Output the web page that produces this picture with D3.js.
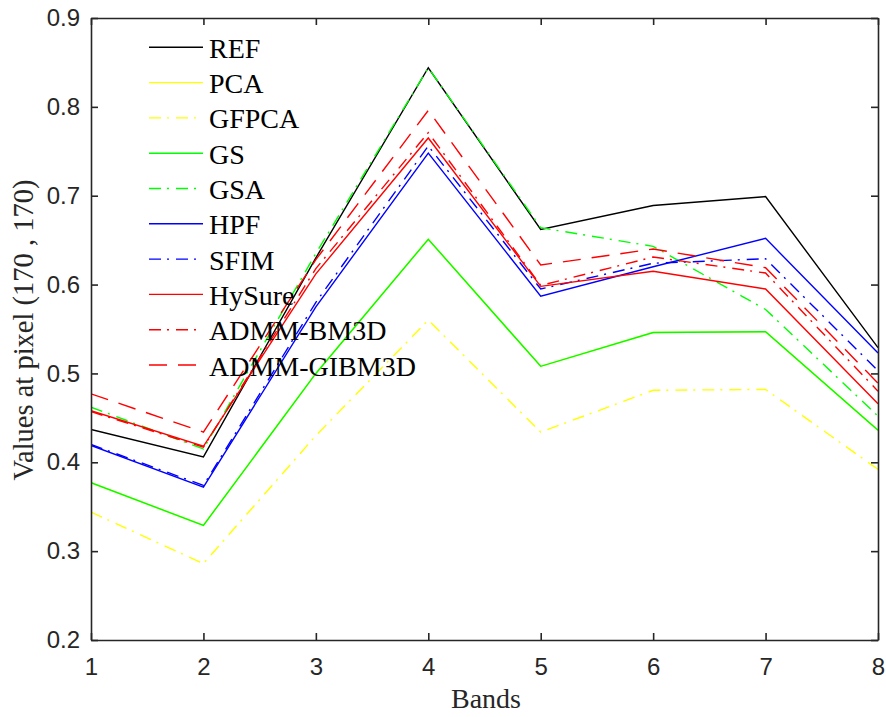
<!DOCTYPE html>
<html><head><meta charset="utf-8">
<script src="https://cdn.jsdelivr.net/npm/d3@7"></script>
<style>body{margin:0;background:#fff;} svg{display:block;}</style>
</head><body>
<svg id="chart" width="886" height="717"></svg>
<script>
const bands = [1, 2, 3, 4, 5, 6, 7, 8];
const yTicks = [0.2, 0.3, 0.4, 0.5, 0.6, 0.7, 0.8, 0.9];
const seriesNames = ["REF","PCA","GFPCA","GS","GSA","HPF","SFIM","HySure","ADMM-BM3D","ADMM-GIBM3D"];
const REF        = [0.437, 0.406, 0.630, 0.844, 0.662, 0.689, 0.699, 0.529];
const PCA        = [0.377, 0.329, 0.500, 0.651, 0.508, 0.546, 0.547, 0.436];
const GFPCA      = [0.344, 0.286, 0.430, 0.560, 0.434, 0.481, 0.482, 0.392];
const GS         = [0.377, 0.329, 0.500, 0.651, 0.508, 0.546, 0.547, 0.436];
const GSA        = [0.462, 0.415, 0.635, 0.844, 0.664, 0.643, 0.572, 0.452];
const HPF        = [0.419, 0.372, 0.575, 0.748, 0.587, 0.620, 0.652, 0.523];
const SFIM       = [0.420, 0.374, 0.580, 0.756, 0.595, 0.624, 0.629, 0.503];
const HySure     = [0.458, 0.418, 0.612, 0.765, 0.598, 0.615, 0.595, 0.466];
const ADMM_BM3D  = [0.457, 0.417, 0.618, 0.771, 0.599, 0.631, 0.613, 0.480];
const ADMM_GIBM3D= [0.477, 0.434, 0.628, 0.796, 0.622, 0.640, 0.619, 0.489];
const seriesData = [REF, PCA, GFPCA, GS, GSA, HPF, SFIM, HySure, ADMM_BM3D, ADMM_GIBM3D];
const colors = ["#000000","#ffff00","#ffff00","#00ff00","#00ff00","#0000ff","#0000ff","#ff0000","#ff0000","#ff0000"];
const dashes = [null, null, "12,6,2,7", null, "12,6,2,7", null, "12,6,2,7", null, "12,6,2,7", "18,11"];

const svg = d3.select("#chart");
const L = 91, R = 878, T = 18, B = 640;
const x = d3.scaleLinear().domain([1, 8]).range([L, R]);
const y = d3.scaleLinear().domain([0.2, 0.9]).range([B, T]);

const axisColor = "#262626";
const tickFont = "'Liberation Sans', Arial, sans-serif";
const serif = "'Liberation Serif', 'Times New Roman', serif";

// plot lines (clipped)
svg.append("clipPath").attr("id","clip").append("rect")
  .attr("x", L).attr("y", T).attr("width", R - L).attr("height", B - T);
const line = d3.line().x((d, i) => x(bands[i])).y(d => y(d));
const g = svg.append("g").attr("clip-path", "url(#clip)");
seriesData.forEach((s, k) => {
  g.append("path").datum(s)
    .attr("d", line)
    .attr("fill", "none")
    .attr("stroke", colors[k])
    .attr("stroke-width", 1.4)
    .attr("stroke-dasharray", dashes[k]);
});

// axes
const ax = svg.append("g").attr("class","axes");
const axB = d3.axisBottom(x).tickValues(bands).tickFormat(d3.format("d")).tickSizeInner(-7).tickSizeOuter(0).tickPadding(18);
const axL = d3.axisLeft(y).tickValues(yTicks).tickFormat(d3.format(".1f")).tickSizeInner(-7).tickSizeOuter(0).tickPadding(11);
const axT = d3.axisTop(x).tickValues(bands).tickFormat("").tickSizeInner(-7).tickSizeOuter(0);
const axR = d3.axisRight(y).tickValues(yTicks).tickFormat("").tickSizeInner(-7).tickSizeOuter(0);

function styleAxis(sel) {
  sel.selectAll("path").attr("stroke", axisColor).attr("stroke-width", 1.6);
  sel.selectAll("line").attr("stroke", axisColor).attr("stroke-width", 1.6);
  sel.selectAll("text").attr("fill", axisColor).style("font-family", tickFont).style("font-size", "24px");
}
styleAxis(ax.append("g").attr("transform", `translate(0,${B})`).call(axB));
styleAxis(ax.append("g").attr("transform", `translate(${L},0)`).call(axL));
styleAxis(ax.append("g").attr("transform", `translate(0,${T})`).call(axT));
styleAxis(ax.append("g").attr("transform", `translate(${R},0)`).call(axR));

// axis titles
svg.append("text").attr("x", 486).attr("y", 708)
  .attr("text-anchor", "middle").style("font-family", serif).style("font-size", "28px")
  .attr("fill", axisColor).text("Bands");
svg.append("text").attr("transform", `translate(33,330) rotate(-90)`)
  .attr("text-anchor", "middle").style("font-family", serif).style("font-size", "28.5px")
  .attr("fill", axisColor).text("Values at pixel (170 , 170)");

// legend
const lg = svg.append("g");
seriesNames.forEach((name, k) => {
  const yy = 47.3 + k * 35.3;
  lg.append("line").attr("x1", 149).attr("x2", 203).attr("y1", yy).attr("y2", yy)
    .attr("stroke", colors[k]).attr("stroke-width", 1.4).attr("stroke-dasharray", dashes[k]);
  lg.append("text").attr("x", 209).attr("y", yy + 10.5)
    .style("font-family", serif).style("font-size", "28px").attr("fill", "#000").text(name);
});
</script>
</body></html>
